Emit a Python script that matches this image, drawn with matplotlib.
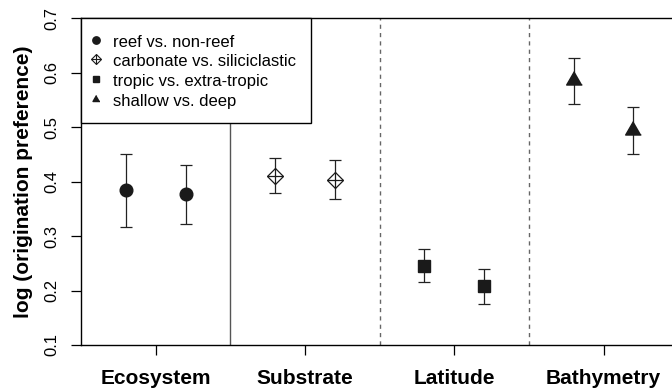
import numpy as np
import matplotlib
matplotlib.use('Agg')
import matplotlib.pyplot as plt
from matplotlib.lines import Line2D
from matplotlib.legend_handler import HandlerTuple

plt.rcParams['font.family'] = ['Liberation Sans', 'DejaVu Sans']

categories = ['Ecosystem', 'Substrate', 'Latitude', 'Bathymetry']
labels = ['reef vs. non-reef', 'carbonate vs. siliciclastic',
          'tropic vs. extra-tropic', 'shallow vs. deep']
# two estimates per category (left / right)
means = [[0.385, 0.377], [0.410, 0.403], [0.245, 0.208], [0.586, 0.494]]
lower = [[0.317, 0.322], [0.380, 0.368], [0.215, 0.176], [0.543, 0.450]]
upper = [[0.450, 0.430], [0.444, 0.439], [0.276, 0.239], [0.628, 0.538]]
offsets = [-0.2, 0.2]

tri = [(0, 0.577), (-0.5, -0.289), (0.5, -0.289)]
ink = '#1a1a1a'

fig = plt.figure(figsize=(6.72, 3.91), dpi=100)
ax = fig.add_axes([81 / 672, 1 - 345 / 391, 1 - 81 / 672, (345 - 18.3) / 391])

# group separators
ax.axvline(1.5, color='#555555', lw=1.0, zorder=1)
ax.axvline(2.5, color='#666666', lw=1.0, ls=(0, (3, 3)), zorder=1)
ax.axvline(3.5, color='#666666', lw=1.0, ls=(0, (3, 3)), zorder=1)

for i in range(4):
    for j in range(2):
        x = i + 1 + offsets[j]
        m = means[i][j]
        ax.errorbar(x, m, yerr=[[m - lower[i][j]], [upper[i][j] - m]],
                    fmt='none', ecolor='#222222', elinewidth=0.9,
                    capsize=4, capthick=0.9, zorder=2)
        if i == 0:
            ax.plot(x, m, 'o', ms=9.1, color=ink, zorder=3)
        elif i == 1:
            ax.plot(x, m, 'D', ms=8.4, mfc='white', mec=ink, mew=0.9, zorder=3)
            ax.plot(x, m, '+', ms=11.9, mec=ink, mew=0.9, zorder=4)
        elif i == 2:
            ax.plot(x, m, 's', ms=8.4, color=ink, zorder=3)
        else:
            ax.plot(x, m, marker=tri, ms=13, color=ink, ls='none', zorder=3)

ax.set_xlim(0.5, 4.458)
ax.set_ylim(0.1, 0.7)
ax.set_xticks([1, 2, 3, 4])
ax.set_xticklabels(categories, fontsize=15, fontweight='bold')
ax.set_yticks([0.1, 0.2, 0.3, 0.4, 0.5, 0.6, 0.7])
ax.set_yticklabels(['0.1', '0.2', '0.3', '0.4', '0.5', '0.6', '0.7'],
                   rotation=90, va='center', fontsize=12)
ax.tick_params(axis='x', length=7.4, width=0.9, pad=10)
ax.tick_params(axis='y', length=7.4, width=0.9, pad=8)
ax.spines['right'].set_visible(False)
for s in ['left', 'bottom', 'top']:
    ax.spines[s].set_linewidth(1.0)
ax.set_ylabel('log (origination preference)', fontsize=15, fontweight='bold', labelpad=8)

h_circle = Line2D([], [], marker='o', ms=5.3, color=ink, ls='none')
h_dia = (Line2D([], [], marker='D', ms=4.6, mfc='white', mec=ink, mew=0.8, ls='none'),
         Line2D([], [], marker='+', ms=6.5, mec=ink, mew=0.8, ls='none'))
h_sq = Line2D([], [], marker='s', ms=4.5, color=ink, ls='none')
h_tri = Line2D([], [], marker=tri, ms=5.8, color=ink, ls='none')
leg = ax.legend([h_circle, h_dia, h_sq, h_tri], labels,
                handler_map={tuple: HandlerTuple(ndivide=1, pad=0)},
                loc='upper left', bbox_to_anchor=(0, 1), borderaxespad=0,
                fontsize=12, frameon=True, fancybox=False, framealpha=1,
                edgecolor='black', handlelength=0.04, handleheight=1.2,
                handletextpad=1.03, labelspacing=0.15, borderpad=0.86)
leg.get_frame().set_linewidth(1.0)
leg.set_zorder(5)

fig.savefig('out.png', dpi=100)
